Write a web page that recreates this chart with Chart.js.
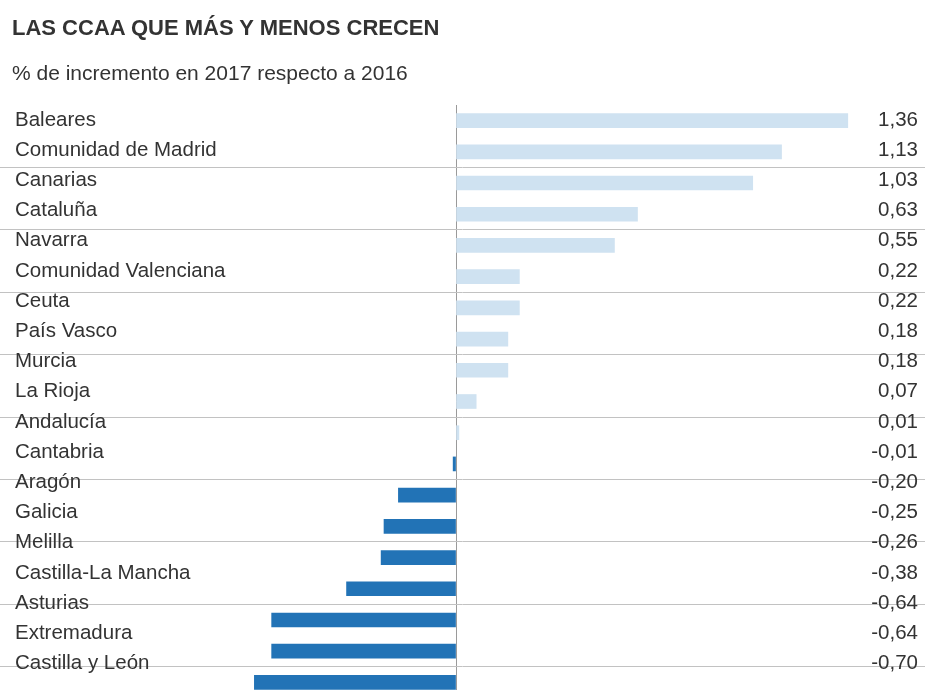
<!DOCTYPE html>
<html>
<head>
<meta charset="utf-8">
<script src="https://cdn.jsdelivr.net/npm/chart.js@4"></script>
<style>
  html, body { margin: 0; padding: 0; background: #fff; overflow: hidden; width: 925px; height: 690px; }
  #wrap { position: relative; width: 925px; height: 690px; overflow: hidden; }
  #chart { position: absolute; left: 0; top: 0; }
  .title { position: absolute; left: 12px; top: 17px; margin: 0; font: bold 22px/21px "Liberation Sans", Arial, sans-serif; color: #333; white-space: nowrap; }
  .subtitle { position: absolute; left: 12px; top: 63px; margin: 0; font: 21px/20px "Liberation Sans", Arial, sans-serif; color: #333; white-space: nowrap; }
</style>
</head>
<body>
<div id="wrap">
  <canvas id="chart" width="925" height="698"></canvas>
  <div class="title">LAS CCAA QUE MÁS Y MENOS CRECEN</div>
  <div class="subtitle">% de incremento en 2017 respecto a 2016</div>
</div>
<script>
const regions = [
  "Baleares", "Comunidad de Madrid", "Canarias", "Cataluña", "Navarra",
  "Comunidad Valenciana", "Ceuta", "País Vasco", "Murcia", "La Rioja",
  "Andalucía", "Cantabria", "Aragón", "Galicia", "Melilla",
  "Castilla-La Mancha", "Asturias", "Extremadura", "Castilla y León"
];
const increments = [
  1.36, 1.13, 1.03, 0.63, 0.55,
  0.22, 0.22, 0.18, 0.18, 0.07,
  0.01, -0.01, -0.20, -0.25, -0.26,
  -0.38, -0.64, -0.64, -0.70
];
const valueLabels = increments.map(v => v.toFixed(2).replace('.', ','));

const POS_COLOR = '#cfe2f1';
const NEG_COLOR = '#2273b6';
const FONT = { family: '"Liberation Sans", Arial, sans-serif', size: 20.5 };

const flatAxis = (axis) => { axis.width = 0; axis.paddingTop = 0; axis.paddingBottom = 0; };
const indexTicks = (axis) => { axis.ticks = regions.map((r, i) => ({ value: i })); };

new Chart(document.getElementById('chart'), {
  type: 'bar',
  data: {
    labels: regions,
    datasets: [{
      data: increments,
      backgroundColor: ctx => (ctx.raw < 0 ? NEG_COLOR : POS_COLOR),
      borderWidth: 0,
      barThickness: 14
    }]
  },
  options: {
    indexAxis: 'y',
    responsive: false,
    animation: false,
    layout: { padding: { top: 105, bottom: 0, left: 0, right: 0 } },
    plugins: { legend: { display: false }, tooltip: { enabled: false }, title: { display: false } },
    scales: {
      x: {
        type: 'linear',
        min: -1.583,
        max: 1.628,
        afterBuildTicks: axis => { axis.ticks = [{ value: 0 }]; },
        afterFit: axis => { axis.height = 0; axis.paddingLeft = 0; axis.paddingRight = 0; },
        ticks: { display: false },
        border: { display: false },
        grid: { color: '#9a9a9a', lineWidth: 1, drawTicks: false }
      },
      y: {
        type: 'category',
        position: 'left',
        offset: true,
        afterFit: flatAxis,
        ticks: { display: false },
        border: { display: false },
        grid: {
          offset: true,
          drawTicks: false,
          lineWidth: 1,
          color: ctx => (ctx.index > 0 && ctx.index % 2 === 0 ? '#c2c2c2' : 'rgba(0,0,0,0)')
        }
      },
      yL: {
        type: 'linear',
        position: 'left',
        reverse: true,
        offset: false,
        min: -0.4967,
        max: 19.139,
        afterBuildTicks: indexTicks,
        afterFit: flatAxis,
        border: { display: false },
        grid: { display: false, drawTicks: false, offset: false },
        ticks: {
          mirror: true,
          padding: 15,
          color: '#333',
          font: FONT,
          callback: (v) => regions[v]
        }
      },
      yR: {
        type: 'linear',
        position: 'right',
        reverse: true,
        offset: false,
        min: -0.4967,
        max: 19.139,
        afterBuildTicks: indexTicks,
        afterFit: flatAxis,
        border: { display: false },
        grid: { display: false, drawTicks: false, offset: false },
        ticks: {
          mirror: true,
          padding: -7,
          color: '#333',
          font: FONT,
          callback: (v) => valueLabels[v]
        }
      }
    }
  }
});
</script>
</body>
</html>
